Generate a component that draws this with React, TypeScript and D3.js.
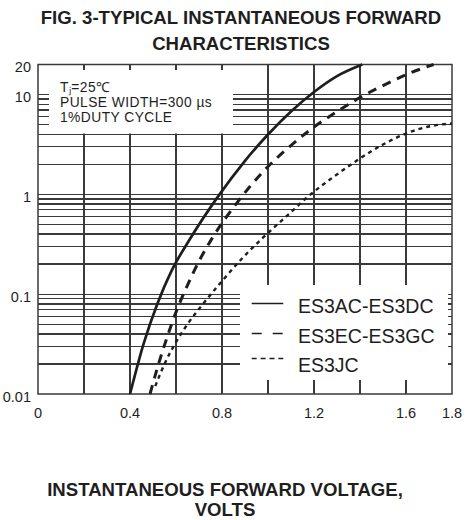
import React from "react";
import * as d3 from "d3";

// ---- data ----
const xTickLabels = [0, 0.4, 0.8, 1.2, 1.6, 1.8];
const xGridValues = [0.2, 0.4, 0.6, 0.8, 1.0, 1.2, 1.4, 1.6];
const yTickLabels = [20, 10, 1, 0.1, 0.01];
const yMajorGrid = [0.1, 1, 10];
const yDecades = [0.01, 0.1, 1];
const yMinorMultipliers = [2, 3, 4, 5, 6, 7, 8, 9];

const seriesNames = ["ES3AC-ES3DC", "ES3EC-ES3GC", "ES3JC"];

const solidV = [0.4, 0.46, 0.52, 0.58, 0.66, 0.78, 0.9, 1.0, 1.1, 1.2, 1.3, 1.41];
const solidI = [0.01, 0.0324, 0.0813, 0.17, 0.355, 0.933, 2.17, 3.98, 6.76, 10.6, 15.3, 20];

const dashedV = [0.487, 0.52, 0.56, 0.6, 0.65, 0.7, 0.76, 0.87, 0.98, 1.08, 1.18, 1.3, 1.4, 1.5, 1.6, 1.72];
const dashedI = [0.01, 0.0186, 0.0363, 0.0661, 0.123, 0.214, 0.372, 0.851, 1.7, 2.82, 4.37, 6.76, 9.33, 12.3, 15.8, 20];

const dottedV = [0.51, 0.55, 0.6, 0.65, 0.72, 0.8, 0.88, 0.98, 1.08, 1.18, 1.3, 1.4, 1.5, 1.6, 1.7, 1.8];
const dottedI = [0.012, 0.02, 0.0331, 0.0501, 0.0813, 0.135, 0.219, 0.372, 0.603, 0.977, 1.585, 2.29, 3.16, 4.07, 4.79, 5.13];

const titleLines = ["FIG. 3-TYPICAL INSTANTANEOUS FORWARD", "CHARACTERISTICS"];
const xTitleLines = ["INSTANTANEOUS FORWARD VOLTAGE,", "VOLTS"];
const noteLines = ["T\u2c7c=25\u2103", "PULSE WIDTH=300 \u00b5s", "1%DUTY CYCLE"];

const W = 467;
const H = 520;
const FONT = "'Liberation Sans', Arial, Helvetica, sans-serif";
const INK = "#1e1e1e";
const GRID = "#3a3a3a";

export default function App() {
  const left = 38, right = 452, top = 64.5, bottom = 394;
  const x = d3.scaleLinear().domain([0, 1.8]).range([left, right]);
  const y = d3.scaleLog().domain([0.01, 20]).range([bottom, top]);

  const yGrid: number[] = [...yMajorGrid];
  yDecades.forEach((d) => yMinorMultipliers.forEach((m) => yGrid.push(d * m)));

  const line = d3
    .line<[number, number]>()
    .x((d) => x(d[0]))
    .y((d) => y(d[1]))
    .curve(d3.curveMonotoneX);

  const zip = (a: number[], b: number[]) => a.map((v, i) => [v, b[i]] as [number, number]);

  const series = [
    { name: seriesNames[0], d: line(zip(solidV, solidI)), dash: "none", w: 2.7 },
    { name: seriesNames[1], d: line(zip(dashedV, dashedI)), dash: "9,7", w: 3 },
    { name: seriesNames[2], d: line(zip(dottedV, dottedI)), dash: "4,4", w: 2.4 },
  ];

  const legendRows = [
    { y: 303.5, base: 312.5, dash: "none" },
    { y: 333.5, base: 342.5, dash: "10,11" },
    { y: 358.5, base: 371.5, dash: "5,3.9" },
  ];

  const fmt = (v: number) => String(v);

  return (
    <svg
      width={W}
      height={H}
      viewBox={`0 0 ${W} ${H}`}
      style={{ position: "absolute", left: 0, top: 0, background: "#fff" }}
      fontFamily={FONT}
    >
      <rect x={0} y={0} width={W} height={H} fill="#fff" />
      {/* title */}
      {titleLines.map((t, i) => (
        <text key={t} x={241} y={24 + i * 26} textAnchor="middle" fontSize={18.6} fontWeight="bold" fill={INK}>
          {t}
        </text>
      ))}

      {/* grid */}
      <g stroke={GRID} strokeWidth={1.3} shapeRendering="crispEdges">
        {xGridValues.map((v) => (
          <line key={"vx" + v} x1={x(v)} x2={x(v)} y1={top} y2={bottom} />
        ))}
        {yGrid.map((v) => (
          <line key={"hy" + v} x1={left} x2={right} y1={y(v)} y2={y(v)} />
        ))}
      </g>

      {/* white masks behind annotation and legend */}
      <rect x={49} y={70} width={184} height={63.5} fill="#fff" />
      <rect x={240} y={285} width={208} height={95} fill="#fff" />

      {/* frame */}
      <rect x={left} y={top} width={right - left} height={bottom - top} fill="none" stroke={GRID} strokeWidth={1.5} />

      {/* curves */}
      {series.map((s) => (
        <path key={s.name} d={s.d || ""} fill="none" stroke={INK} strokeWidth={s.w} strokeDasharray={s.dash} />
      ))}

      {/* y tick labels */}
      {yTickLabels.map((v) => (
        <text key={"yl" + v} x={31} y={y(v) + 2.5} dy="0.35em" textAnchor="end" fontSize={14.5} fill={INK}>
          {fmt(v)}
        </text>
      ))}

      {/* x tick labels */}
      {xTickLabels.map((v) => (
        <text key={"xl" + v} x={x(v)} y={413} dy="0.35em" textAnchor="middle" fontSize={14.5} fill={INK}>
          {fmt(v)}
        </text>
      ))}

      {/* annotation */}
      {noteLines.map((t, i) => (
        <text key={t} x={60} y={91.5 + i * 15} fontSize={13.8} letterSpacing={0.45} fill={INK}>
          {t}
        </text>
      ))}

      {/* legend */}
      {legendRows.map((r, i) => (
        <g key={"lg" + i}>
          <line x1={251.7} x2={283.3} y1={r.y} y2={r.y} stroke={INK} strokeWidth={1.5} strokeDasharray={r.dash} />
          <text x={298} y={r.base} fontSize={19.5} fill={INK}>
            {seriesNames[i]}
          </text>
        </g>
      ))}

      {/* x axis title */}
      {xTitleLines.map((t, i) => (
        <text key={t} x={225} y={496 + i * 20} textAnchor="middle" fontSize={18.6} fontWeight="bold" fill={INK}>
          {t}
        </text>
      ))}
    </svg>
  );
}
